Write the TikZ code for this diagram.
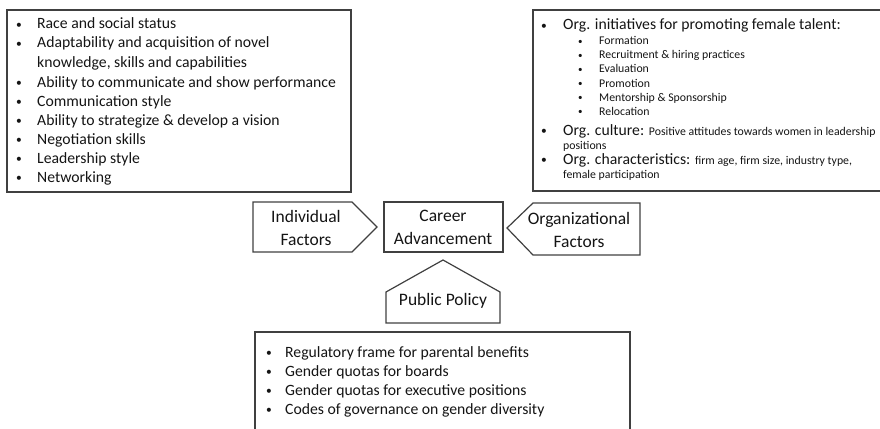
\documentclass[tikz,border=0pt]{standalone}
\usepackage{fontspec}
\setmainfont{Carlito}

\definecolor{frame}{HTML}{404040}
\definecolor{ink}{HTML}{141414}

\tikzset{
  box/.style={draw=frame, line width=1.2pt},
  item/.style={anchor=base west, inner sep=0pt, text=ink, font=\fontsize{15.7}{18}\selectfont},
  subitem/.style={item, font=\fontsize{11.8}{14}\selectfont},
  dot/.style={item, yshift=0.8pt, font=\fontsize{11.5}{12}\selectfont},
  subdot/.style={item, yshift=0.6pt, font=\fontsize{9}{10}\selectfont},
  factor/.style={align=center, text=ink, font=\fontsize{17.5}{23}\selectfont},
}

\begin{document}
\begin{tikzpicture}[x=1pt,y=-1pt]
	\useasboundingbox (0,0) rectangle (880,428);
	\clip (0,0) rectangle (880,428);

	% individual factors list
	\draw[box] (7,10) rectangle (351,192);
	\foreach \y/\t in {29/Race and social status,
			48/Adaptability and acquisition of novel,
			67/{knowledge, skills and capabilities},
			87/Ability to communicate and show performance,
			106/Communication style,
			125/Ability to strategize \& develop a vision,
			144/Negotiation skills,
			163/Leadership style,
			182/Networking}
		\node[item] (ind\y) at (37,\y) {\t};
	\foreach \y in {29,48,87,106,125,144,163,182}
		\node[dot] (indb\y) at (16,\y) {\textbullet};

	% organizational factors list
	\draw[box] (533,10) rectangle (890,191);
	\node[dot] (orgb1) at (541,30) {\textbullet};
	\node[item] (org1) at (563,30) {Org. initiatives for promoting female talent:};
	\foreach \y/\t in {45/Formation,
			59/Recruitment \& hiring practices,
			73/Evaluation,
			87/Promotion,
			101/Mentorship \& Sponsorship,
			115/Relocation}{
		\node[subdot] (subb\y) at (578,\y) {\textbullet};
		\node[subitem] (sub\y) at (599,\y) {\t};
	}
	\node[dot] (orgb2) at (541,135) {\textbullet};
	\node[item] (org2) at (563,135) {Org. culture: {\fontsize{11.8}{14}\selectfont Positive attitudes towards women in leadership}};
	\node[subitem] (org2b) at (563,149) {positions};
	\node[dot] (orgb3) at (541,164) {\textbullet};
	\node[item] (org3) at (563,164) {Org. characteristics: {\fontsize{11.8}{14}\selectfont firm age, firm size, industry type,}};
	\node[subitem] (org3b) at (563,178) {female participation};

	% the four middle shapes
	\draw[box] (253,202) -- (352,202) -- (377,227) -- (352,252) -- (253,252) -- cycle;
	\node[factor] (indiv) at (306,228) {Individual\\Factors};
	\draw[box] (384,202) rectangle (503,252);
	\node[factor] (career) at (443,227) {Career\\Advancement};
	\draw[box] (507,228) -- (533,203) -- (640,203) -- (640,255) -- (533,255) -- cycle;
	\node[factor] (orgf) at (579,230) {Organizational\\Factors};
	\draw[box] (443,260) -- (500,292) -- (500,323) -- (386,323) -- (386,292) -- cycle;
	\node[factor] (policy) at (443,301) {Public Policy};

	% public policy list
	\draw[box] (255,332) rectangle (630,440);
	\foreach \y/\t in {357/Regulatory frame for parental benefits,
			376/Gender quotas for boards,
			395/Gender quotas for executive positions,
			414/Codes of governance on gender diversity}{
		\node[dot] (polb\y) at (266,\y) {\textbullet};
		\node[item] (pol\y) at (285,\y) {\t};
	}

\end{tikzpicture}
\end{document}
